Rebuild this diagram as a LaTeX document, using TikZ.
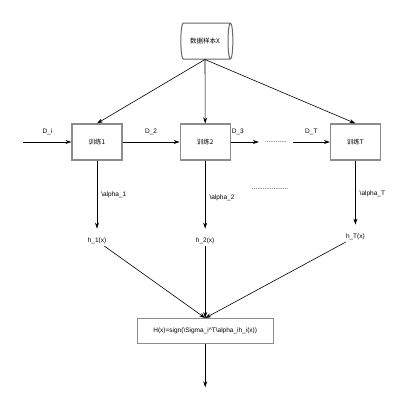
\documentclass[tikz,border=0pt]{standalone}
\usepackage{fontspec}
\setmainfont{Liberation Sans}
\newfontfamily\cjk{Noto Sans CJK SC}
\usetikzlibrary{arrows,arrows.meta}
\usetikzlibrary{positioning}
\usetikzlibrary{shapes.geometric}

\begin{document}
\begin{tikzpicture}[x=1pt,y=-1pt]
	\tikzstyle{every node}=[font=\fontsize{6.5}{7}\selectfont]
	\tikzstyle{train}=[draw=gray!90,line width=1.2pt,minimum width=50pt,minimum height=36pt,inner sep=0pt]
	\tikzstyle{hyp}=[inner sep=2pt,minimum height=10pt]
	\tikzstyle{lab}=[inner sep=1pt]
	\useasboundingbox (0,0) rectangle (404,407);

	\node (data) [cylinder,draw=gray!80!black,line width=1pt,aspect=0.6,minimum width=36pt,minimum height=52pt,inner sep=1pt] at (205,41) {\cjk 数据样本X};

	\node (t1) [train] at (97,142) {\cjk 训练1};
	\node (t2) [train,right=57pt of t1] {\cjk 训练2};
	\node (tT) [train,right=99pt of t2] {\cjk 训练T};
	\coordinate [left=48pt of t1] (in);
	\node (dotsA) [right=28pt of t2,inner xsep=6pt,inner ysep=0pt] {............};

	\node (h1) [hyp,below=75pt of t1] {h\_1(x)};
	\node (h2) [hyp,below=75pt of t2] {h\_2(x)};
	\node (hT) [hyp,below=71pt of tT] {h\_T(x)};
	\node (dotsB) at (270,189) {....................};

	\node (H) [draw=gray!90,line width=1.2pt,minimum width=136pt,minimum height=25pt,below=72pt of h2] {H(x)=sign(\textbackslash Sigma\_i\textasciicircum T\textbackslash alpha\_ih\_i(x))};
	\coordinate [below=43pt of H] (out);

	\path[->,>={Stealth[length=6pt,width=4pt]},line width=0.6pt]
		(data.south) edge (t1.north)
		(data.south) edge (t2.north)
		(data.south) edge (tT.north)
		(in) edge node[lab,above=6pt] {D\_i} (t1)
		(t1) edge node[lab,above=6pt] {D\_2} (t2)
		(t2) edge node[lab,above=6pt,near start] {D\_3} (dotsA)
		(dotsA) edge node[lab,above=6pt] {D\_T} (tT);

	\path[->,>={Stealth[length=6pt,width=4pt]},line width=0.6pt,shorten >=7pt]
		(t1) edge node[lab,right=3pt,pos=0.45] {\textbackslash alpha\_1} (h1)
		(t2) edge node[lab,right=3pt,pos=0.5] {\textbackslash alpha\_2} (h2)
		(tT) edge node[lab,right=3pt,pos=0.47] {\textbackslash alpha\_T} (hT);

	\path[->,>={Stealth[length=6pt,width=4pt]},line width=0.6pt]
		(h1) edge (H.north)
		(h2) edge (H.north)
		(hT) edge (H.north)
		(H) edge (out);
\end{tikzpicture}
\end{document}
